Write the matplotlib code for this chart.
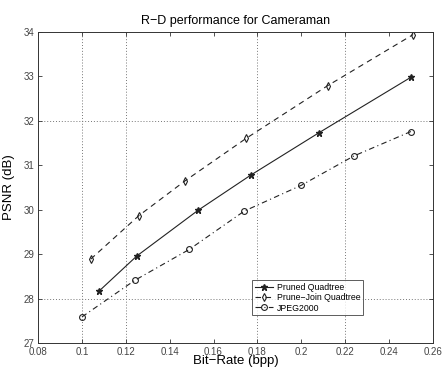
import matplotlib.pyplot as plt

# R-D data (bit-rate in bpp, PSNR in dB)
pruned_rate = [0.108, 0.125, 0.153, 0.177, 0.208, 0.250]
pruned_psnr = [28.18, 28.96, 29.99, 30.78, 31.73, 32.98]

join_rate = [0.104, 0.126, 0.147, 0.175, 0.212, 0.251]
join_psnr = [28.89, 29.87, 30.65, 31.61, 32.79, 33.94]

jpeg_rate = [0.100, 0.124, 0.149, 0.174, 0.200, 0.224, 0.250]
jpeg_psnr = [27.59, 28.41, 29.11, 29.97, 30.55, 31.21, 31.76]

xticks = [0.08, 0.1, 0.12, 0.14, 0.16, 0.18, 0.2, 0.22, 0.24, 0.26]
xtick_labels = ["0.08", "0.1", "0.12", "0.14", "0.16", "0.18", "0.2", "0.22", "0.24", "0.26"]
yticks = [27, 28, 29, 30, 31, 32, 33, 34]
grid_x = [0.1, 0.12, 0.18, 0.22]
grid_y = [28, 32]

plt.rcParams['font.family'] = ['Liberation Sans', 'DejaVu Sans']

fig = plt.figure(figsize=(4.43, 3.67), dpi=100)
ax = fig.add_axes([0.086, 0.065, 0.891, 0.848])

# only the grid lines that survive in the scan
for gx in grid_x:
    ax.axvline(gx, color="#777777", lw=0.7, ls=(0, (1, 2)), zorder=0)
for gy in grid_y:
    ax.axhline(gy, color="#777777", lw=0.7, ls=(0, (1, 2)), zorder=0)

ax.plot(pruned_rate, pruned_psnr, color="#222222", ls="-", lw=0.8,
        marker="*", ms=5, mfc="#222222", mec="#222222", label="Pruned Quadtree")
ax.plot(join_rate, join_psnr, color="#222222", ls=(0, (5, 4)), lw=0.8,
        marker="d", ms=4.2, mfc="none", mec="#222222", mew=0.8,
        label="Prune\u2212Join Quadtree")
ax.plot(jpeg_rate, jpeg_psnr, color="#222222", ls=(0, (5, 3, 1, 3)), lw=0.8,
        marker="o", ms=4.2, mfc="none", mec="#222222", mew=0.8, label="JPEG2000")

ax.set_xlim(0.08, 0.26)
ax.set_ylim(27, 34)
ax.set_xticks(xticks)
ax.set_xticklabels(xtick_labels)
ax.set_yticks(yticks)
ax.tick_params(direction="in", top=True, right=True, labelsize=7,
               length=3, width=0.6, colors="#333333", labelcolor="#444444",
               pad=2.5)
for s in ax.spines.values():
    s.set_linewidth(0.7)
    s.set_color("#333333")

ax.set_xlabel("Bit\u2212Rate (bpp)", fontsize=9.5, labelpad=-1)
ax.set_ylabel("PSNR (dB)", fontsize=9.5, labelpad=6)
ax.set_title("R\u2212D performance for Cameraman", fontsize=9, pad=6)

leg = ax.legend(loc="lower left", bbox_to_anchor=(0.543, 0.09), fontsize=6.3,
                frameon=True, fancybox=False, borderpad=0.3, labelspacing=0.15,
                handlelength=2.0, handletextpad=0.5, borderaxespad=0)
leg.get_frame().set_edgecolor("#333333")
leg.get_frame().set_linewidth(0.7)

fig.savefig("out.png", dpi=100)
